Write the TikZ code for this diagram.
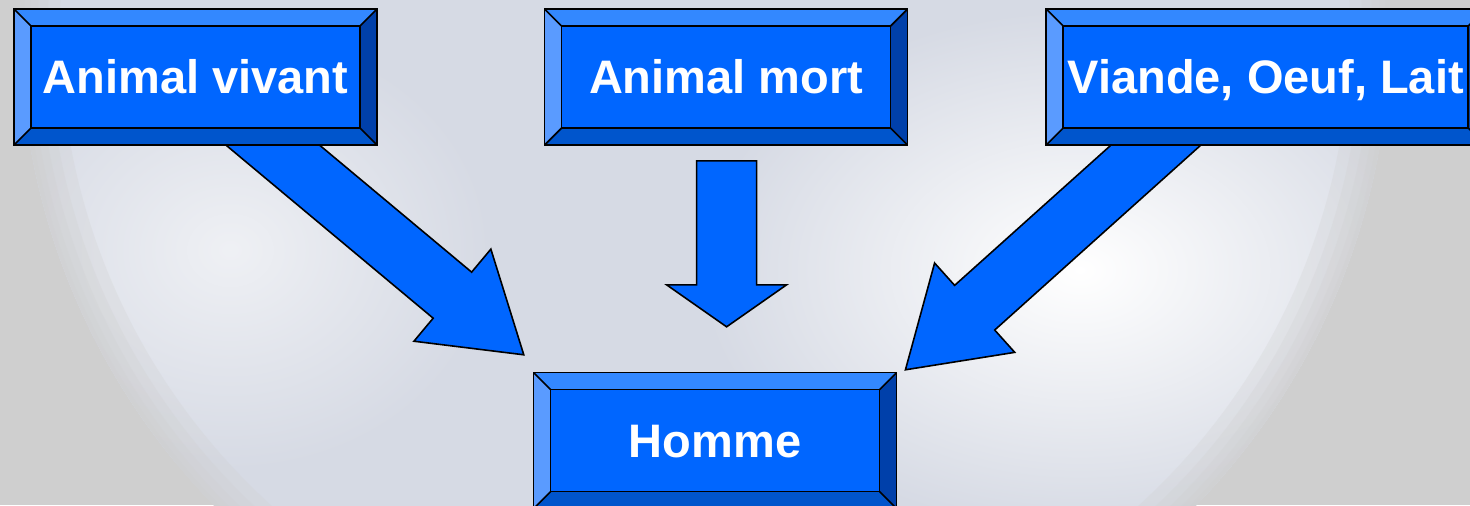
\documentclass[tikz,border=0pt]{standalone}
\usepackage{fontspec}
\newfontfamily\boxfont{Liberation Sans}
\usetikzlibrary{calc, positioning, backgrounds}
\definecolor{boxblue}{RGB}{0,102,255}
\definecolor{beveltop}{RGB}{51,136,255}
\definecolor{bevelleft}{RGB}{90,155,255}
\definecolor{bevelright}{RGB}{0,64,170}
\definecolor{bevelbottom}{RGB}{0,85,204}
\definecolor{backgray}{RGB}{207,207,207}
\definecolor{globegray}{RGB}{214,218,228}

\pgfdeclarelayer{backdrop}
\pgfsetlayers{backdrop,background,main}

% block arrow from tail to tip, optional head length
\newcommand{\blockarrow}[3][46.5pt]{%
  \draw[blockarrow] let \p1=(#2), \p2=(#3),
      \n1={atan2(\y2-\y1,\x2-\x1)}, \n2={veclen(\x2-\x1,\y2-\y1)} in
    [shift={(\p1)}, rotate=\n1]
    (0pt,15pt) -- (\n2-#1,15pt) -- (\n2-#1,30pt) -- (\n2,0pt)
    -- (\n2-#1,-30pt) -- (\n2-#1,-15pt) -- (0pt,-15pt) -- cycle;
}

\begin{document}
\begin{tikzpicture}[
    x=0.5pt, y=-0.5pt,
    bevelbox/.style={rectangle, draw=black, line width=0.8pt, inner sep=0pt,
        minimum width=181.5pt, minimum height=68pt, text=white,
        font=\boxfont\bfseries\fontsize{23.5pt}{28pt}\selectfont,
        text height=16.8pt, text depth=0pt,
        path picture={
            \coordinate (pnw) at (path picture bounding box.north west);
            \coordinate (pne) at (path picture bounding box.north east);
            \coordinate (pse) at (path picture bounding box.south east);
            \coordinate (psw) at (path picture bounding box.south west);
            \fill[beveltop] (pnw) -- (pne) -- ++(-8.5pt,-8.5pt) -- ($(pnw)+(8.5pt,-8.5pt)$) -- cycle;
            \fill[bevelright] (pne) -- (pse) -- ++(-8.5pt,8.5pt) -- ($(pne)+(-8.5pt,-8.5pt)$) -- cycle;
            \fill[bevelbottom] (pse) -- (psw) -- ++(8.5pt,8.5pt) -- ($(pse)+(-8.5pt,8.5pt)$) -- cycle;
            \fill[bevelleft] (psw) -- (pnw) -- ++(8.5pt,-8.5pt) -- ($(psw)+(8.5pt,8.5pt)$) -- cycle;
            \draw[black, line width=0.8pt, fill=boxblue] ($(pnw)+(8.5pt,-8.5pt)$) rectangle ($(pse)+(-8.5pt,8.5pt)$);
            \draw[black, line width=0.8pt] (pnw) -- ++(8.5pt,-8.5pt) (pne) -- ++(-8.5pt,-8.5pt)
                (pse) -- ++(-8.5pt,8.5pt) (psw) -- ++(8.5pt,8.5pt);
        }},
    blockarrow/.style={draw=black, line width=0.8pt, fill=boxblue, line join=miter},
]
\useasboundingbox (0,0) rectangle (1470,505);
\clip (0,0) rectangle (1470,505);

% === BACKDROP ===
\begin{pgfonlayer}{backdrop}
    \fill[backgray] (0,0) rectangle (1470,505);
    \begin{scope}
        \clip (705,28) circle[radius=342.5pt];
        \fill[globegray] (705,28) circle[radius=342.5pt];
        \shade[inner color=white, outer color=globegray] (1080,270) ellipse[x radius=190pt, y radius=130pt];
        \shade[inner color=white!60!globegray, outer color=globegray] (230,250) ellipse[x radius=130pt, y radius=110pt];
        % soft rim
        \foreach \w in {40,28,18,10,4}
            \draw[backgray, opacity=0.25, line width=\w pt] (705,28) circle[radius=342.5pt];
    \end{scope}
\end{pgfonlayer}

% === BOXES ===
\node[bevelbox] (vivant) at (195.5,77) {Animal vivant};
\node[bevelbox, right=83pt of vivant] (mort) {Animal mort};
\node[bevelbox, minimum width=219.5pt, right=68.5pt of mort] (viande) {Viande, Oeuf, Lait};
\node[bevelbox, below=113pt of mort, xshift=-5.5pt] (homme) {Homme};

% === ARROWS ===
\coordinate (vtail) at ($(vivant.south)+(32,-38.5)$);
\coordinate (vtip) at ($(homme.north west)+(-9,-17)$);
\coordinate (mtail) at ($(mort.south)+(0.5,15)$);
\coordinate (mtip) at ($(mort.south)+(0.5,181)$);
\coordinate (ltail) at ($(viande.south)+(-66,-40)$);
\coordinate (ltip) at ($(homme.north east)+(8,-2)$);

\begin{scope}[on background layer]
    \blockarrow{vtail}{vtip}
    \blockarrow[21pt]{mtail}{mtip}
    \blockarrow{ltail}{ltip}
\end{scope}

\end{tikzpicture}
\end{document}
